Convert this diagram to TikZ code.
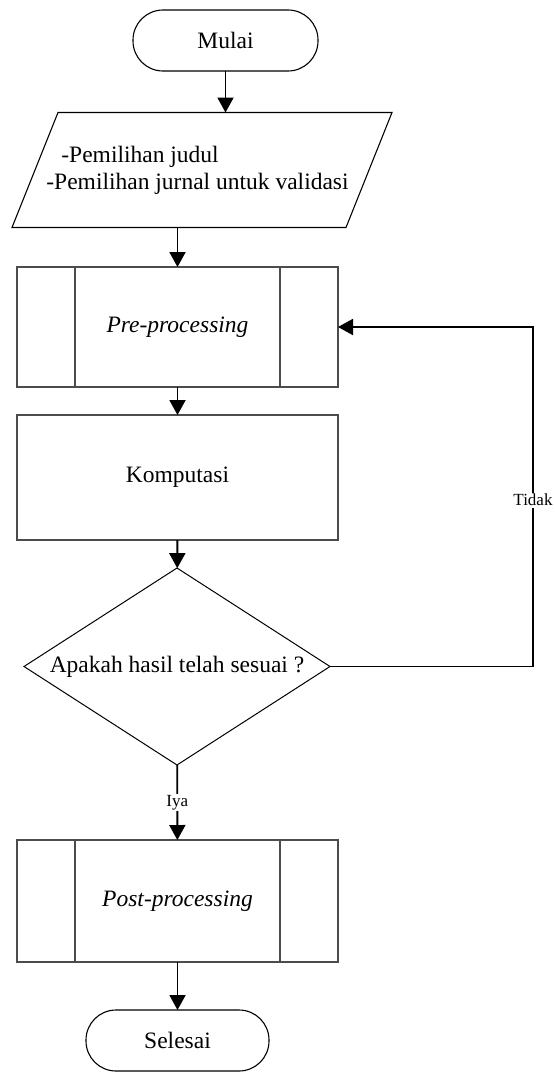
\documentclass[tikz,border=0pt]{standalone}
\usepackage{fontspec}
\setmainfont{Liberation Serif}
\usetikzlibrary{shapes.geometric,arrows.meta,calc}
\begin{document}
\begin{tikzpicture}[x=1pt,y=-1pt,
  every node/.style={font=\fontsize{23.5}{27}\selectfont, inner sep=0pt, outer sep=0pt},
  term/.style={draw, line width=1.1pt, rounded corners=30pt, minimum width=185pt, minimum height=61pt},
  procbox/.style={draw=black!70, line width=1.4pt, minimum width=321pt, minimum height=120pt},
  flow/.style={-{Triangle[width=16pt,length=15pt]}, line width=1.9pt},
  lab/.style={fill=white, font=\fontsize{17}{19}\selectfont, inner sep=1.5pt}]
\useasboundingbox (0,0) rectangle (554,1073);
% nodes
\node[term] (mulai) at (225.5,40.5) {Mulai};
\node[minimum width=380pt, minimum height=115pt, align=left] (input) at (202,170)
  {\hspace*{15pt}-Pemilihan judul\\-Pemilihan jurnal untuk validasi\hspace*{9pt}};
\draw[line width=1.1pt] ($(input.north west)+(46,0)$) -- (input.north east)
  -- ($(input.south east)-(46,0)$) -- (input.south west) -- cycle;
\node[procbox] (pre) at (177.5,327) {\textit{Pre-processing}};
\draw[black!70, line width=1.4pt] ([xshift=58pt]pre.north west) -- ([xshift=58pt]pre.south west)
  ([xshift=-58pt]pre.north east) -- ([xshift=-58pt]pre.south east);
\node[procbox, minimum height=125pt] (komp) at (177.5,477.5) {Komputasi};
\node[draw, diamond, aspect=1.553, line width=1pt, minimum width=306pt, minimum height=197pt] (dec) at (177,666.5) {Apakah hasil telah sesuai ?};
\node[procbox, minimum height=122pt] (post) at (177.5,901) {\textit{Post-processing}};
\draw[black!70, line width=1.4pt] ([xshift=58pt]post.north west) -- ([xshift=58pt]post.south west)
  ([xshift=-58pt]post.north east) -- ([xshift=-58pt]post.south east);
\node[term, minimum width=183pt] (selesai) at (177.5,1040.5) {Selesai};
\coordinate (c1) at (533,666.5);
\coordinate (c2) at (533,327);
% connectors
\draw[flow] (mulai.south) -- (mulai.south |- input.north);
\draw[flow] (pre.north |- input.south) -- (pre.north);
\draw[flow] (pre) -- (komp);
\draw[flow] (komp) -- (dec);
\draw[flow] (dec) -- node[lab] {Iya} (post);
\draw[flow] (post) -- (selesai);
\draw[flow] (dec.east) -- (c1) -- node[lab, pos=0.49] {Tidak} (c2) -- (pre.east);
\end{tikzpicture}
\end{document}
